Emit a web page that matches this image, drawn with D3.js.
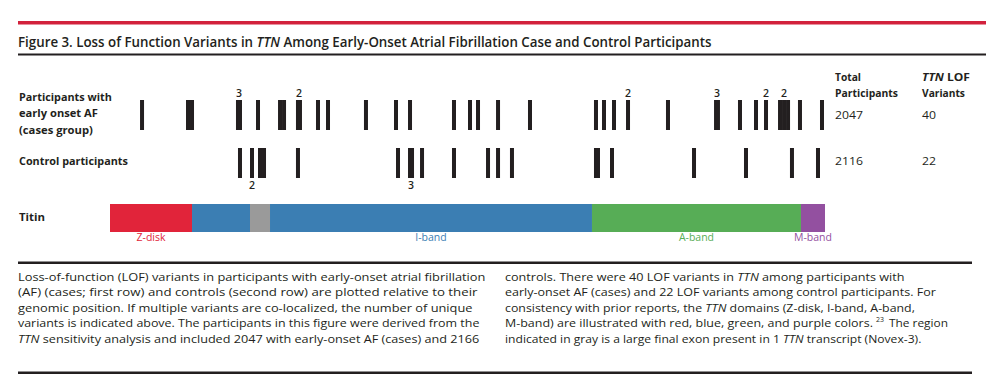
<!DOCTYPE html>
<html><head><meta charset="utf-8">
<script src="https://cdn.jsdelivr.net/npm/d3@7"></script>
<style>
html,body{margin:0;padding:0;background:#fff;}
svg{display:block;font-family:"Open Sans","Noto Sans",sans-serif;}
</style></head>
<body><svg id="c" width="1004" height="390"></svg>
<script>
// ---- data (positions as % of TTN length) ----
const casePositions = [4.48, 10.91, 11.47, 17.90, 18.18, 20.70, 23.78, 24.34, 26.29, 26.57,
  29.09, 30.49, 35.80, 40.00, 41.96, 48.11, 50.35, 51.47, 54.27, 58.74,
  67.97, 69.09, 70.49, 72.45, 78.04, 84.76, 85.03, 88.11, 90.35, 91.75,
  93.71, 94.27, 94.83, 96.50, 99.58];
const caseCountPos = [18.04, 26.43, 72.45, 84.90, 91.75, 94.27];
const caseCountVal = [3, 2, 2, 3, 2, 2];
const controlPositions = [18.18, 19.86, 20.98, 21.54, 26.29, 40.28, 41.96, 42.24, 43.64, 48.11,
  52.87, 54.27, 56.22, 67.97, 68.25, 70.21, 81.68, 88.95, 95.38, 99.02];
const controlCountPos = [19.86, 42.10];
const controlCountVal = [2, 3];
const domainNames = ["Z-disk", "I-band", "Novex-3", "I-band", "A-band", "M-band"];
const domainStart = [0, 11.47, 19.58, 22.38, 67.41, 96.64];
const domainEnd   = [11.47, 19.58, 22.38, 67.41, 96.64, 100];
const domainLabelled = [true, false, false, true, true, true];
const totalParticipants = ["2047", "2116"];
const lofVariants = ["40", "22"];

const colors = {"Z-disk":"#e1243a","I-band":"#3b7eb3","Novex-3":"#9a9a9a","A-band":"#57ad56","M-band":"#9350a0"};
const ink = "#231f20";

const svg = d3.select("#c");
const x = d3.scaleLinear().domain([0, 100]).range([110, 825]);

function txt(sel, s, xx, yy, opt) {
  opt = opt || {};
  const t = sel.append("text").attr("x", xx).attr("y", yy)
    .attr("font-size", opt.size || 11).attr("font-weight", opt.weight || "normal")
    .attr("fill", opt.fill || ink).attr("text-anchor", opt.anchor || "start");
  const parts = s.split("*");
  parts.forEach((p, i) => { if (p.length) { const ts = t.append("tspan").text(p); if (i % 2 === 1) ts.attr("font-style", "italic"); } });
  if (opt.len) {
    const w = t.node().getComputedTextLength();
    const k = opt.len / w;
    t.attr("transform", `translate(${xx},${yy}) scale(${k},1) translate(${-xx},${-yy})`);
  }
  return t;
}

// header rules
svg.append("rect").attr("x", 18).attr("y", 21).attr("width", 968).attr("height", 3.5).attr("fill", "#d2213c");
txt(svg, "Figure 3. Loss of Function Variants in *TTN* Among Early-Onset Atrial Fibrillation Case and Control Participants", 18, 47, {size: 14, weight: "600", len: 694});
svg.append("rect").attr("x", 18).attr("y", 53.5).attr("width", 968).attr("height", 2).attr("fill", ink);

// row labels
const rl = {size: 11, weight: "bold"};
txt(svg, "Participants with", 19, 101, Object.assign({len: 93}, rl));
txt(svg, "early onset AF", 19, 117, Object.assign({len: 79}, rl));
txt(svg, "(cases group)", 19, 134, Object.assign({len: 74}, rl));
txt(svg, "Control participants", 19, 165, Object.assign({len: 109}, rl));
txt(svg, "Titin", 19, 221, Object.assign({len: 26}, rl));

// column headers
txt(svg, "Total", 835, 81, Object.assign({len: 26}, rl));
txt(svg, "Participants", 835, 97, Object.assign({len: 63}, rl));
txt(svg, "*TTN* LOF", 922, 81, Object.assign({len: 48}, rl));
txt(svg, "Variants", 922, 97, Object.assign({len: 43}, rl));
const rowY = [115, 161];
totalParticipants.forEach((v, i) => txt(svg, v, 835, rowY[i] + 4, {size: 11, weight: "500", len: 28}));
lofVariants.forEach((v, i) => txt(svg, v, 922, rowY[i] + 4, {size: 11, weight: "500", len: 14}));

// variant ticks
const bw = 4;
svg.append("g").selectAll("rect").data(casePositions).join("rect")
  .attr("x", d => x(d) - bw / 2).attr("y", 100).attr("width", bw).attr("height", 30).attr("fill", ink);
svg.append("g").selectAll("rect").data(controlPositions).join("rect")
  .attr("x", d => x(d) - bw / 2).attr("y", 148).attr("width", bw).attr("height", 30).attr("fill", ink);
svg.append("g").selectAll("text").data(caseCountPos).join("text")
  .attr("x", d => x(d)).attr("y", 97).attr("text-anchor", "middle").attr("font-size", 10.5)
  .attr("font-weight", "600").attr("fill", ink).text((d, i) => caseCountVal[i]);
svg.append("g").selectAll("text").data(controlCountPos).join("text")
  .attr("x", d => x(d)).attr("y", 189).attr("text-anchor", "middle").attr("font-size", 10.5)
  .attr("font-weight", "600").attr("fill", ink).text((d, i) => controlCountVal[i]);

// titin domains
const dom = domainNames.map((n, i) => ({n, s: domainStart[i], e: domainEnd[i], l: domainLabelled[i]}));
svg.append("g").selectAll("rect").data(dom).join("rect")
  .attr("x", d => x(d.s)).attr("y", 204).attr("width", d => x(d.e) - x(d.s)).attr("height", 28)
  .attr("fill", d => colors[d.n]);
svg.append("g").selectAll("text").data(dom.filter(d => d.l)).join("text")
  .attr("x", d => x((d.s + d.e) / 2)).attr("y", 241).attr("text-anchor", "middle")
  .attr("font-size", 10.5).attr("fill", d => colors[d.n]).text(d => d.n);

// caption
svg.append("rect").attr("x", 18).attr("y", 261.5).attr("width", 954).attr("height", 2.5).attr("fill", ink);
svg.append("rect").attr("x", 18).attr("y", 371.5).attr("width", 954).attr("height", 2.5).attr("fill", ink);
const capL = [
  ["Loss-of-function (LOF) variants in participants with early-onset atrial fibrillation", 468],
  ["(AF) (cases; first row) and controls (second row) are plotted relative to their", 460],
  ["genomic position. If multiple variants are co-localized, the number of unique", 455],
  ["variants is indicated above. The participants in this figure were derived from the", 462],
  ["*TTN* sensitivity analysis and included 2047 with early-onset AF (cases) and 2166", 462]
];
const capR = [
  ["controls. There were 40 LOF variants in *TTN* among participants with", 400],
  ["early-onset AF (cases) and 22 LOF variants among control participants. For", 431],
  ["consistency with prior reports, the *TTN* domains (Z-disk, I-band, A-band,", 410],
  ["M-band) are illustrated with red, blue, green, and purple colors.", 368],
  ["indicated in gray is a large final exon present in 1 *TTN* transcript (Novex-3).", 417]
];
const capY = [281, 296.5, 312, 327.5, 343];
const capOpt = {size: 11.5, weight: "500"};
capL.forEach((l, i) => txt(svg, l[0], 18, capY[i], Object.assign({len: l[1]}, capOpt)));
capR.forEach((l, i) => txt(svg, l[0], 505, capY[i], Object.assign({len: l[1]}, capOpt)));
txt(svg, "23", 876, capY[3] - 5, {size: 7, weight: "500", len: 8});
txt(svg, "The region", 889, capY[3], Object.assign({len: 59}, capOpt));
</script></body></html>
